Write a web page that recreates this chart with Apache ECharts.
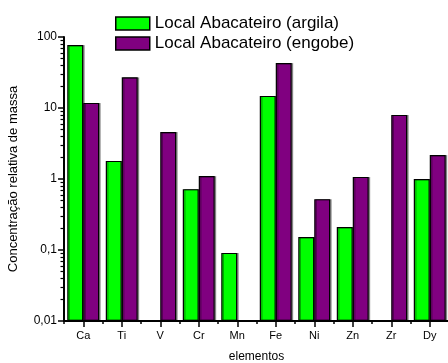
<!DOCTYPE html>
<html>
<head>
<meta charset="utf-8">
<script src="https://cdn.jsdelivr.net/npm/echarts@6/dist/echarts.min.js"></script>
<style>
  html, body { margin: 0; padding: 0; background: #fff; }
  #chart { width: 448px; height: 363px; }
</style>
</head>
<body>
<div id="chart"></div>
<script>
// element categories and mass fractions
const elements = ['Ca', 'Ti', 'V', 'Cr', 'Mn', 'Fe', 'Ni', 'Zn', 'Zr', 'Dy']
const argila = [77, 1.8, null, 0.72, 0.091, 14.8, 0.152, 0.21, null, 1.0]
const engobe = [11.8, 27, 4.6, 1.1, null, 43, 0.52, 1.07, 8.0, 2.18]
const seriesNames = ['Local Abacateiro (argila)', 'Local Abacateiro (engobe)']

// log axis: decades and the minor tick multipliers inside each decade
const decades = [-2, -1, 0, 1]
const minorSteps = [2, 3, 4, 5, 6, 7, 8, 9]
const minorTickPos = []
decades.forEach(d => minorSteps.forEach(m => minorTickPos.push(d + Math.log10(m))))

const chart = echarts.init(document.getElementById('chart'))
const font = 'Arial, "Liberation Sans", sans-serif'

const barStyle = (color) => ({
  color: color,
  borderColor: '#000',
  borderWidth: 1.2,
  shadowColor: 'rgba(0,0,0,0.35)',
  shadowOffsetX: 1.5,
  shadowOffsetY: 0,
  shadowBlur: 0
})

const option = {
  animation: false,
  backgroundColor: '#fff',
  textStyle: { fontFamily: font },
  legend: {
    data: seriesNames,
    orient: 'vertical',
    left: 110,
    top: 10,
    itemWidth: 34,
    itemHeight: 13,
    itemGap: 3,
    icon: 'rect',
    itemStyle: { borderColor: '#000', borderWidth: 1.5 },
    textStyle: { fontSize: 17, color: '#000', fontFamily: font }
  },
  grid: {
    left: 64,
    right: -1,
    top: 37,
    bottom: 42,
    outerBoundsMode: 'none',
    containLabel: false
  },
  xAxis: [
    {
      type: 'category',
      data: elements,
      name: 'elementos',
      nameLocation: 'middle',
      nameGap: 30,
      nameTextStyle: { fontSize: 12, color: '#000', fontFamily: font },
      axisLine: { onZero: false, lineStyle: { color: '#000', width: 2 } },
      axisTick: { show: true, alignWithLabel: true, length: 6, lineStyle: { color: '#000', width: 1.5 } },
      axisLabel: { color: '#000', fontSize: 11, margin: 9, fontFamily: font },
      splitLine: { show: false }
    },
    {
      // boundary ticks between categories
      type: 'category',
      data: elements,
      position: 'bottom',
      axisLine: { show: false, onZero: false },
      axisTick: { show: true, length: 3, lineStyle: { color: '#000', width: 1.5 } },
      axisLabel: { show: false },
      splitLine: { show: false }
    }
  ],
  yAxis: [
    {
      type: 'log',
      logBase: 10,
      min: 0.01,
      max: 100,
      startValue: 0.01,
      name: 'Concentração relativa de massa',
      nameLocation: 'middle',
      nameGap: 44,
      nameTextStyle: { fontSize: 13, color: '#000', fontFamily: font },
      axisLine: { show: true, onZero: false, lineStyle: { color: '#000', width: 2 } },
      axisTick: { show: true, length: 6, lineStyle: { color: '#000', width: 1.5 } },
      axisLabel: {
        color: '#000',
        fontSize: 12,
        margin: 7,
        fontFamily: font,
        formatter: (v) => String(+v.toPrecision(3)).replace('.', ',')
      },
      splitLine: { show: false }
    },
    {
      // minor ticks at 2..9 of each decade
      type: 'value',
      min: -2,
      max: 2,
      position: 'left',
      axisLine: { show: false, onZero: false },
      axisTick: { show: true, length: 3.5, customValues: minorTickPos, lineStyle: { color: '#000', width: 1.2 } },
      axisLabel: { show: false },
      splitLine: { show: false }
    }
  ],
  series: [
    {
      name: seriesNames[0],
      type: 'bar',
      barGap: '0%',
      barCategoryGap: '17%',
      itemStyle: barStyle('#00ff00'),
      data: argila
    },
    {
      name: seriesNames[1],
      type: 'bar',
      barGap: '0%',
      barCategoryGap: '17%',
      itemStyle: barStyle('#800080'),
      data: engobe
    }
  ]
}
chart.setOption(option)
</script>
</body>
</html>
